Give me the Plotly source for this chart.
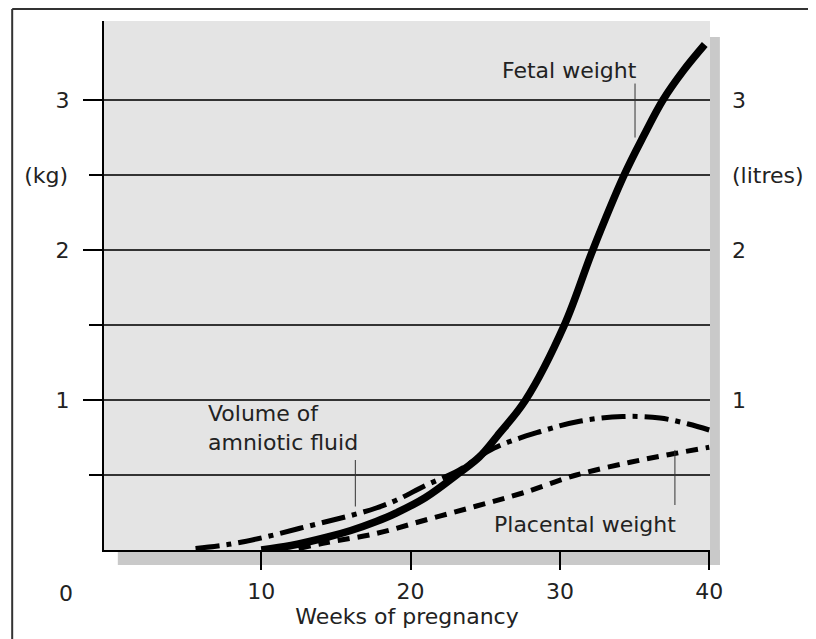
"""Growth of the fetus, placenta and amniotic fluid over the weeks of pregnancy."""

import plotly.graph_objects as go

# Fetal weight (kg)
fetal_weeks = [10, 12, 14.4, 16, 17.7, 19, 21, 23.2, 24.6, 25.8, 27.7,
               30.3, 32.2, 34.3, 35.6, 36.9, 38.3, 39.7]
fetal_kg = [0, 0.03, 0.085, 0.13, 0.19, 0.245, 0.35, 0.51, 0.62, 0.76, 1.0,
            1.5, 2.0, 2.5, 2.76, 3.0, 3.2, 3.37]

# Volume of amniotic fluid (litres)
fluid_weeks = [5.6, 8, 10.2, 12.4, 14.4, 16, 17.7, 19, 21, 23.2, 25.6, 28.7,
               31.4, 34.2, 36.7, 38.6, 40]
fluid_litres = [0.01, 0.04, 0.085, 0.14, 0.19, 0.23, 0.28, 0.33, 0.43, 0.53,
                0.68, 0.79, 0.86, 0.89, 0.88, 0.84, 0.80]

# Placental weight (kg)
placenta_weeks = [12.5, 14.4, 17.7, 21, 24.3, 27.5, 31.1, 34.7, 37.5, 40]
placenta_kg = [0.01, 0.05, 0.11, 0.2, 0.29, 0.38, 0.5, 0.585, 0.64, 0.685]

x_ticks = [10, 20, 30, 40]
y_major = [1, 2, 3]
y_minor = [0.5, 1.5, 2.5]

FONT = "DejaVu Sans"
INK = "#222222"
X_RANGE = [-0.53, 40.05]
Y_RANGE = [0, 3.527]

fig = go.Figure()
fig.add_trace(go.Scatter(
    x=placenta_weeks, y=placenta_kg, mode="lines", name="Placental weight",
    line=dict(color="black", width=5, dash="12px,8px", shape="spline"),
    yaxis="y",
))
fig.add_trace(go.Scatter(
    x=fluid_weeks, y=fluid_litres, mode="lines", name="Volume of amniotic fluid",
    line=dict(color="black", width=5, dash="24px,7px,5px,7px", shape="spline"),
    yaxis="y2",
))
fig.add_trace(go.Scatter(
    x=fetal_weeks, y=fetal_kg, mode="lines", name="Fetal weight",
    line=dict(color="black", width=7.5, shape="spline"),
    yaxis="y3",
))

# leader lines from the labels to the curves
leaders = [
    (35.03, 3.11, 2.75),
    (16.3, 0.60, 0.29),
    (37.7, 0.667, 0.30),
]
shapes = [
    dict(type="line", xref="x", yref="y", x0=lx, x1=lx, y0=ly0, y1=ly1,
         line=dict(color="#333333", width=1))
    for lx, ly0, ly1 in leaders
]
# drop shadow of the panel
shapes += [
    dict(type="rect", xref="paper", yref="paper", x0=1.0, x1=1.0163,
         y0=-0.0284, y1=0.9698, fillcolor="#c9c9c9", line_width=0, layer="below"),
    dict(type="rect", xref="paper", yref="paper", x0=0.0228, x1=1.0163,
         y0=-0.0284, y1=0, fillcolor="#c9c9c9", line_width=0, layer="below"),
]
# outer frame (top and left edges)
shapes += [
    dict(type="line", xref="paper", yref="paper", x0=-0.1515, x1=1.2,
         y0=1.0227, y1=1.0227, line=dict(color="#333333", width=2)),
    dict(type="line", xref="paper", yref="paper", x0=-0.1515, x1=-0.1515,
         y0=-0.2, y1=1.0227, line=dict(color="#333333", width=2)),
]

annotations = [
    dict(x=25.97, y=3.2, xref="x", yref="y", text="Fetal weight",
         showarrow=False, xanchor="left", yanchor="middle"),
    dict(x=6.28, y=0.813, xref="x", yref="y", text="Volume of<br>amniotic fluid",
         showarrow=False, xanchor="left", yanchor="middle", align="left"),
    dict(x=25.45, y=0.173, xref="x", yref="y", text="Placental weight",
         showarrow=False, xanchor="left", yanchor="middle"),
    dict(x=-0.0635, y=-0.0813, xref="paper", yref="paper", text="0",
         showarrow=False, xanchor="center", yanchor="middle"),
]

# the page body adds an 8px margin, so the figure is 8px smaller
fig.update_layout(
    width=808,
    height=631,
    margin=dict(l=96, r=98, t=13, b=89),
    paper_bgcolor="white",
    plot_bgcolor="#e4e4e4",
    showlegend=False,
    font=dict(family=FONT, size=22, color=INK),
    shapes=shapes,
    annotations=annotations,
    xaxis=dict(
        range=X_RANGE, tickvals=x_ticks, ticks="outside", ticklen=18,
        tickwidth=2, tickcolor="black", showline=True, linewidth=2,
        linecolor="black", showgrid=False, zeroline=False,
        ticklabelstandoff=3,
        title=dict(text="Weeks of pregnancy", standoff=2,
                   font=dict(size=22, color=INK)),
    ),
    yaxis=dict(
        range=Y_RANGE, tickvals=y_major, ticks="outside", ticklen=19,
        tickwidth=2, tickcolor="black", showline=True, linewidth=2,
        linecolor="black", showgrid=True, gridcolor="#333333", gridwidth=1.5,
        zeroline=False, ticklabelstandoff=9,
        minor=dict(tickmode="array", tickvals=y_minor, ticks="outside",
                   ticklen=13, tickwidth=2, tickcolor="black",
                   showgrid=True, gridcolor="#333333", gridwidth=1.5),
    ),
    yaxis2=dict(
        range=Y_RANGE, overlaying="y", side="right", anchor="x",
        tickvals=[1, 2, 2.5, 3], ticktext=["1", "2", "(litres)", "3"],
        ticks="", showgrid=False, showline=False, zeroline=False,
        ticklabelstandoff=21,
    ),
    yaxis3=dict(
        range=Y_RANGE, overlaying="y", side="left", anchor="x",
        tickvals=[2.5], ticktext=["(kg)"],
        ticks="", showgrid=False, showline=False, zeroline=False,
        ticklabelstandoff=35,
    ),
)

fig.write_html("out.html")
